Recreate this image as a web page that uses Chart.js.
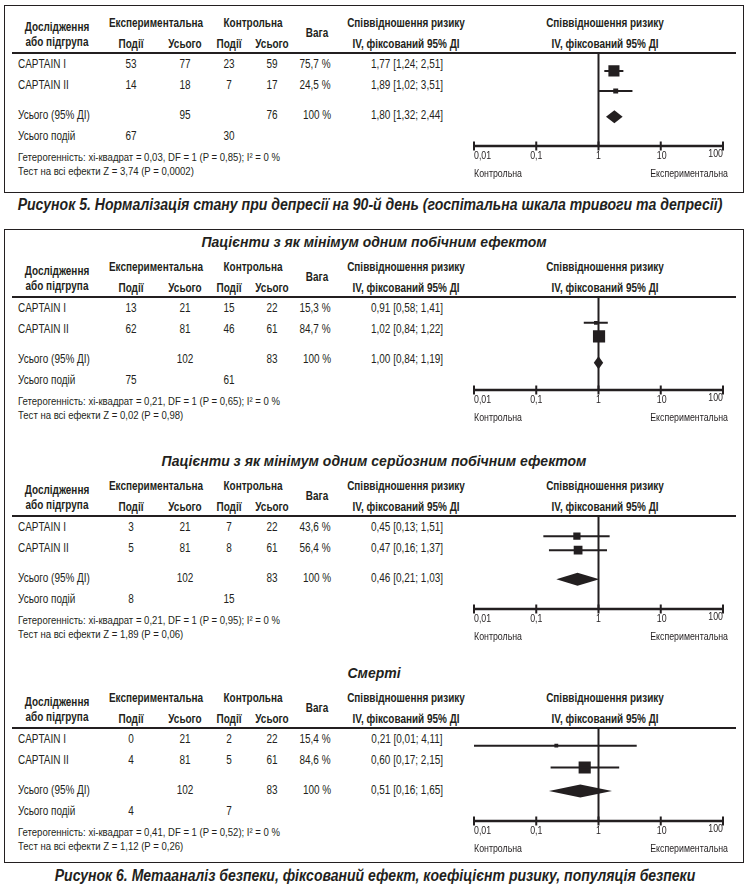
<!DOCTYPE html>
<html><head><meta charset="utf-8">
<script src="https://cdn.jsdelivr.net/npm/chart.js@4.4.0/dist/chart.umd.min.js"></script>
<style>
body{margin:0;background:#fff;width:748px;height:889px;position:relative;overflow:hidden;font-family:"Liberation Sans",Arial,sans-serif;color:#231f20;}
.t{position:absolute;white-space:nowrap;font-size:12px;line-height:14px;--sx:0.83;transform-origin:0 50%;transform:translateY(-50%) scaleX(var(--sx));}
.c{transform-origin:50% 50%;transform:translate(-50%,-50%) scaleX(var(--sx));}
.b{font-weight:bold;}
.s{font-size:11.5px;}
.box{position:absolute;border:1.5px solid #231f20;box-sizing:border-box;}
.hl{position:absolute;height:1.5px;background:#231f20;}
.title{font-weight:bold;font-style:italic;font-size:14px;--sx:1;}
.cap{font-weight:bold;font-style:italic;font-size:16px;--sx:0.87;}
canvas{position:absolute;}
</style></head><body>
<div class="box" style="left:4px;top:5px;width:740px;height:188px"></div>
<div class="box" style="left:4px;top:229px;width:740px;height:634px"></div>
<script>
// data
const studies = ['CAPTAIN I', 'CAPTAIN II'];
const panelTitles = [null, 'Пацієнти з як мінімум одним побічним ефектом', 'Пацієнти з як мінімум одним серйозним побічним ефектом', 'Смерті'];
const expEvents = [[53, 14], [13, 62], [3, 5], [0, 4]];
const expTotal = [[77, 18], [21, 81], [21, 81], [21, 81]];
const ctrlEvents = [[23, 7], [15, 46], [7, 8], [2, 5]];
const ctrlTotal = [[59, 17], [22, 61], [22, 61], [22, 61]];
const weights = [[75.7, 24.5], [15.3, 84.7], [43.6, 56.4], [15.4, 84.6]];
const rr = [[1.77, 1.89], [0.91, 1.02], [0.45, 0.47], [0.21, 0.60]];
const rrLow = [[1.24, 1.02], [0.58, 0.84], [0.13, 0.16], [0.01, 0.17]];
const rrHigh = [[2.51, 3.51], [1.41, 1.22], [1.51, 1.37], [4.11, 2.15]];
const totalRR = [1.80, 1.00, 0.46, 0.51];
const totalLow = [1.32, 0.84, 0.21, 0.16];
const totalHigh = [2.44, 1.19, 1.03, 1.65];
const totalExpN = [95, 102, 102, 102];
const totalCtrlN = [76, 83, 83, 83];
const totalExpEvents = [67, 75, 8, 4];
const totalCtrlEvents = [30, 61, 15, 7];
const heterogeneity = [
  'Гетерогенність: хі-квадрат = 0,03, DF = 1 (P = 0,85); I² = 0 %',
  'Гетерогенність: хі-квадрат = 0,21, DF = 1 (P = 0,65); I² = 0 %',
  'Гетерогенність: хі-квадрат = 0,21, DF = 1 (P = 0,95); I² = 0 %',
  'Гетерогенність: хі-квадрат = 0,41, DF = 1 (P = 0,52); I² = 0 %'
];
const overallTest = [
  'Тест на всі ефекти Z = 3,74 (P = 0,0002)',
  'Тест на всі ефекти Z = 0,02 (P = 0,98)',
  'Тест на всі ефекти Z = 1,89 (P = 0,06)',
  'Тест на всі ефекти Z = 1,12 (P = 0,26)'
];
const tickValues = [0.01, 0.1, 1, 10, 100];
const tickLabels = ['0,01', '0,1', '1', '10', '100'];
const captions = [
  'Рисунок 5. Нормалізація стану при депресії на 90-й день (госпітальна шкала тривоги та депресії)',
  'Рисунок 6. Метааналіз безпеки, фіксований ефект, коефіцієнт ризику, популяція безпеки'
];

// layout
const ink = '#231f20';
const headerY = [53, 297, 516, 728];
const markRows = [[11, 33, 61], [19, 34, 63], [15, 30, 61], [10, 34, 60]];
const textRows = [11, 32, 62, 83, 104, 118];
const axisOff = 93;
const canvasH = 135;

const num = (v, d) => v.toFixed(d).replace('.', ',');
const ciText = (m, l, h) => num(m, 2) + ' [' + num(l, 2) + '; ' + num(h, 2) + ']';

function txt(s, x, y, cls, center) {
  const d = document.createElement('div');
  d.className = 't ' + (center ? 'c ' : '') + (cls || '');
  d.style.left = x + 'px';
  d.style.top = y + 'px';
  d.textContent = s;
  document.body.appendChild(d);
  return d;
}

// captions squeezed to the width they take in the figure
[[370, 205, 705], [375, 876, 640]].forEach(([cx, cy, w], i) => {
  const d = txt(captions[i], cx, cy, 'cap', true);
  d.style.setProperty('--sx', (w / d.offsetWidth).toFixed(3));
});

function narrowText(ctx, s, x, y, align) {
  ctx.save();
  ctx.translate(x, y);
  ctx.scale(0.8, 1);
  ctx.textAlign = align;
  ctx.fillText(s, 0, 0);
  ctx.restore();
}

const forestPlugin = {
  id: 'forest',
  afterDatasetsDraw(chart, args, opts) {
    const p = opts.panel;
    const { ctx, scales: { x, y } } = chart;
    const axisY = y.getPixelForValue(axisOff);
    const x0 = x.getPixelForValue(tickValues[0]);
    const x1 = x.getPixelForValue(tickValues[tickValues.length - 1]);
    ctx.save();
    ctx.strokeStyle = ink;
    ctx.fillStyle = ink;
    // line of no effect
    const xr = x.getPixelForValue(1);
    ctx.lineWidth = 2;
    ctx.beginPath(); ctx.moveTo(xr, 0); ctx.lineTo(xr, axisY); ctx.stroke();
    // pooled diamond
    const yc = y.getPixelForValue(markRows[p][2]);
    const xl = x.getPixelForValue(totalLow[p]);
    const xm = x.getPixelForValue(totalRR[p]);
    const xh = x.getPixelForValue(totalHigh[p]);
    ctx.beginPath();
    ctx.moveTo(xl, yc); ctx.lineTo(xm, yc - 6.5); ctx.lineTo(xh, yc); ctx.lineTo(xm, yc + 6.5);
    ctx.closePath(); ctx.fill();
    // axis
    ctx.lineWidth = 2.5;
    ctx.beginPath(); ctx.moveTo(x0, axisY); ctx.lineTo(x1, axisY); ctx.stroke();
    ctx.lineWidth = 2;
    ctx.font = '11px "Liberation Sans", Arial, sans-serif';
    ctx.textBaseline = 'middle';
    tickValues.forEach((v, i) => {
      const px = x.getPixelForValue(v);
      ctx.beginPath(); ctx.moveTo(px, axisY - 4.5); ctx.lineTo(px, axisY + 4.5); ctx.stroke();
      const last = i === tickValues.length - 1;
      narrowText(ctx, tickLabels[i], px + (i === 3 ? 1 : 0), axisY + (last ? 8 : 10),
        i === 0 ? 'left' : (last ? 'right' : 'center'));
    });
    narrowText(ctx, 'Контрольна', x0, axisY + 28, 'left');
    narrowText(ctx, 'Експериментальна', x1 + 5, axisY + 28, 'right');
    ctx.restore();
  }
};

headerY.forEach((h, p) => {
  if (panelTitles[p]) txt(panelTitles[p], 374, h - 55, 'title', true);
  const hl = document.createElement('div');
  hl.className = 'hl';
  hl.style.cssText = 'left:12px;width:724px;top:' + (h - 0.75) + 'px';
  document.body.appendChild(hl);

  txt('Дослідження', 57, h - 26, 'b', true);
  txt('або підгрупа', 57, h - 11, 'b', true);
  txt('Експериментальна', 156, h - 30, 'b', true);
  txt('Контрольна', 253, h - 30, 'b', true);
  txt('Події', 131, h - 9, 'b', true);
  txt('Усього', 185, h - 9, 'b', true);
  txt('Події', 229, h - 9, 'b', true);
  txt('Усього', 272, h - 9, 'b', true);
  txt('Вага', 317, h - 20, 'b', true);
  [406, 605].forEach(cx => {
    txt('Співвідношення ризику', cx, h - 30, 'b', true);
    txt('IV, фіксований 95% ДІ', cx, h - 9, 'b', true);
  });

  studies.forEach((s, i) => {
    const y = h + textRows[i];
    txt(s, 18, y);
    txt(expEvents[p][i], 131, y, '', true);
    txt(expTotal[p][i], 185, y, '', true);
    txt(ctrlEvents[p][i], 229, y, '', true);
    txt(ctrlTotal[p][i], 272, y, '', true);
    txt(num(weights[p][i], 1) + ' %', 315, y, '', true);
    txt(ciText(rr[p][i], rrLow[p][i], rrHigh[p][i]), 407, y, '', true);
  });
  txt('Усього (95% ДІ)', 18, h + textRows[2]);
  txt(totalExpN[p], 185, h + textRows[2], '', true);
  txt(totalCtrlN[p], 272, h + textRows[2], '', true);
  txt('100 %', 317, h + textRows[2], '', true);
  txt(ciText(totalRR[p], totalLow[p], totalHigh[p]), 407, h + textRows[2], '', true);
  txt('Усього подій', 18, h + textRows[3]);
  txt(totalExpEvents[p], 131, h + textRows[3], '', true);
  txt(totalCtrlEvents[p], 229, h + textRows[3], '', true);
  txt(heterogeneity[p], 18, h + textRows[4], 's');
  txt(overallTest[p], 18, h + textRows[5], 's');

  const cv = document.createElement('canvas');
  cv.width = 288; cv.height = canvasH;
  cv.style.left = '460px'; cv.style.top = h + 'px';
  document.body.appendChild(cv);

  const whiskers = studies.map((s, i) => ({
    label: s,
    data: [{ x: rrLow[p][i], y: markRows[p][i] }, { x: rrHigh[p][i], y: markRows[p][i] }],
    showLine: true, borderColor: ink, borderWidth: 2, pointRadius: 0
  }));
  const squares = {
    label: 'RR',
    data: studies.map((s, i) => ({ x: rr[p][i], y: markRows[p][i] })),
    pointStyle: 'rect',
    pointRadius: weights[p].map(w => (2 + 0.12 * w) / Math.SQRT2),
    backgroundColor: ink, borderWidth: 0
  };

  new Chart(cv, {
    type: 'scatter',
    data: { datasets: whiskers.concat([squares]) },
    options: {
      responsive: false,
      animation: false,
      layout: { padding: { left: 14, right: 25, top: 0, bottom: canvasH - axisOff } },
      plugins: { legend: { display: false }, tooltip: { enabled: false }, forest: { panel: p } },
      scales: {
        x: { type: 'logarithmic', min: 0.01, max: 100, display: false },
        y: { type: 'linear', min: 0, max: axisOff, reverse: true, display: false }
      }
    },
    plugins: [forestPlugin]
  });
});
</script>
</body></html>
